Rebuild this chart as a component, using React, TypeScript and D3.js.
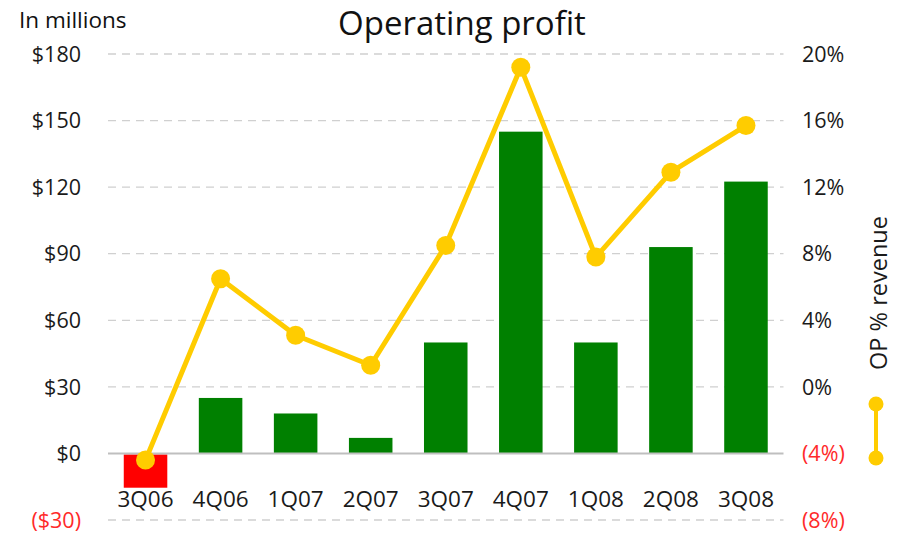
import React from 'react';
import * as d3 from 'd3';

const quarters = ['3Q06', '4Q06', '1Q07', '2Q07', '3Q07', '4Q07', '1Q08', '2Q08', '3Q08'];
const profit = [-15, 25, 18, 7, 50, 145, 50, 93, 122.5];
const opPct = [-4.4, 6.5, 3.1, 1.3, 8.5, 19.2, 7.8, 12.9, 15.7];
const leftTicks = [-30, 0, 30, 60, 90, 120, 150, 180];
const rightTicks = [-8, -4, 0, 4, 8, 12, 16, 20];

const FONT = '"Open Sans", sans-serif';
const W = 905, H = 535;
const left = 108, right = 783.5, top = 54, bottom = 520;

const App = () => {
    const x = d3.scaleBand().domain(quarters).range([left, right]).paddingInner(0.42).paddingOuter(0.21);
    const y = d3.scaleLinear().domain([-30, 180]).range([bottom, top]);
    const y2 = d3.scaleLinear().domain([-8, 20]).range([bottom, top]);

    const line = d3.line<number>()
        .x((d, i) => (x(quarters[i]) as number) + x.bandwidth() / 2)
        .y(d => y2(d));

    const money = (v: number) => v < 0 ? `($${-v})` : `$${v}`;
    const pct = (v: number) => v < 0 ? `(${-v}%)` : `${v}%`;

    return (
        <svg width={W} height={H} style={{ position: 'absolute', left: 0, top: 0 }} fontFamily={FONT}>
            <rect width={W} height={H} fill="#fff" />
            <text x={462} y={35} textAnchor="middle" fontSize={33} fill="#111">Operating profit</text>
            <text x={19} y={28} fontSize={22.5} fill="#111">In millions</text>

            {leftTicks.filter(t => t !== 0).map(t => (
                <line key={t} x1={left} x2={right} y1={y(t)} y2={y(t)} stroke="#d0d0d0" strokeWidth={1.3} strokeDasharray="8,6" />
            ))}

            {leftTicks.map(t => (
                <text key={'l' + t} x={81} y={y(t)} dy="0.36em" textAnchor="end" fontSize={21.5} fill={t < 0 ? '#ff2a2a' : '#1a1a1a'}>{money(t)}</text>
            ))}
            {rightTicks.map(t => (
                <text key={'r' + t} x={802} y={y2(t)} dy="0.36em" textAnchor="start" fontSize={21.5} fill={t < 0 ? '#ff2a2a' : '#1a1a1a'}>{pct(t)}</text>
            ))}

            {profit.map((v, i) => (
                <rect key={quarters[i]}
                    x={x(quarters[i])}
                    y={v >= 0 ? y(v) : y(0) + 1}
                    width={x.bandwidth()}
                    height={Math.abs(y(v) - y(0))}
                    fill={v < 0 ? '#ff0000' : '#008000'} />
            ))}

            <line x1={left} x2={right} y1={y(0)} y2={y(0)} stroke="#bfbfbf" strokeWidth={2} />

            {quarters.map(q => (
                <text key={'c' + q} x={(x(q) as number) + x.bandwidth() / 2} y={507} textAnchor="middle" fontSize={22.5} fill="#1a1a1a">{q}</text>
            ))}

            <path d={line(opPct) || ''} fill="none" stroke="#ffcc00" strokeWidth={5} strokeLinejoin="round" />
            {opPct.map((v, i) => (
                <circle key={'p' + i} cx={(x(quarters[i]) as number) + x.bandwidth() / 2} cy={y2(v)} r={9.5} fill="#ffcc00" />
            ))}

            <text transform="translate(887,293) rotate(-90)" textAnchor="middle" fontSize={23.5} fill="#1a1a1a">OP % revenue</text>
            <line x1={876} x2={876} y1={404} y2={458} stroke="#ffcc00" strokeWidth={4} />
            <circle cx={876} cy={404} r={7.5} fill="#ffcc00" />
            <circle cx={876} cy={458} r={7.5} fill="#ffcc00" />
        </svg>
    );
};

export default App;
